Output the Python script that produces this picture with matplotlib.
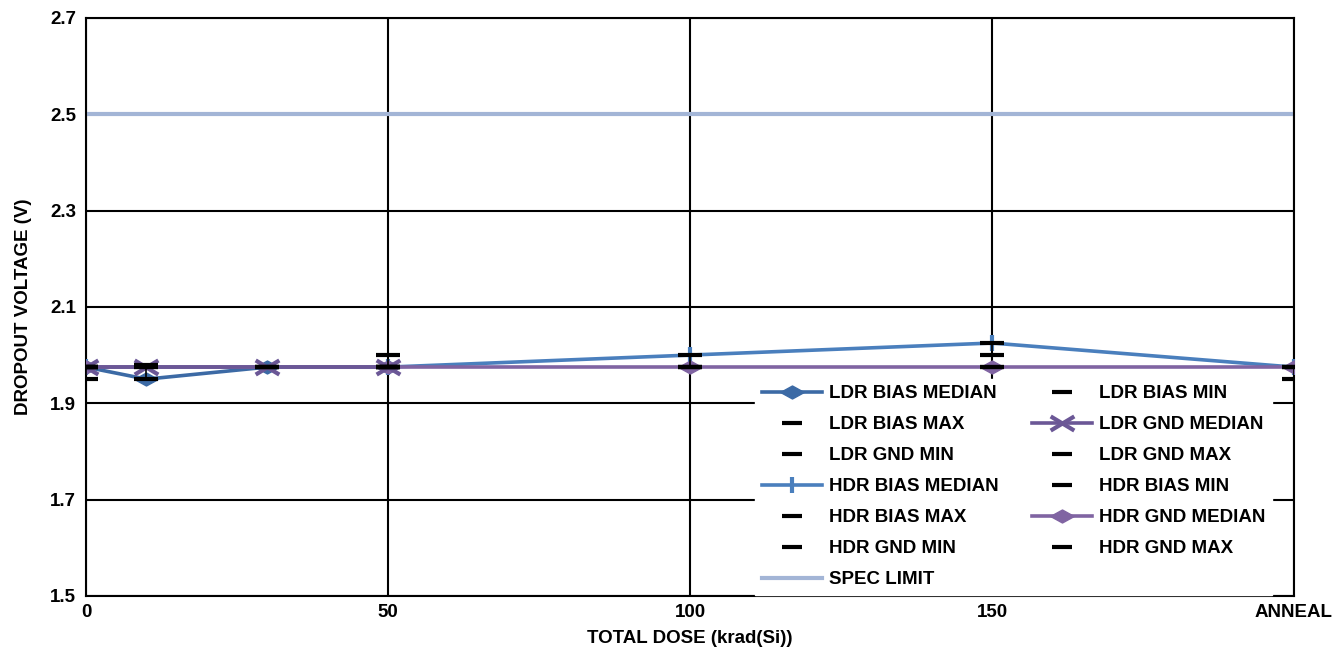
import matplotlib
matplotlib.use("Agg")
import matplotlib.pyplot as plt
from matplotlib.path import Path
import numpy as np

plt.rcParams['font.family'] = ['Liberation Sans', 'DejaVu Sans']
plt.rcParams['font.weight'] = 'bold'

x_ldr = [0, 10, 30, 50]
ldr_bias_median = [1.975, 1.95, 1.975, 1.975]
ldr_bias_min = [1.95, 1.95, 1.975, 1.975]
ldr_bias_max = [1.975, 1.98, 1.975, 1.975]
ldr_gnd_median = [1.975, 1.975, 1.975, 1.975]
ldr_gnd_min = [1.975, 1.975, 1.975, 1.975]
ldr_gnd_max = [1.975, 1.975, 1.975, 1.975]

x_hdr = [0, 50, 100, 150, 200]
hdr_bias_median = [1.975, 1.975, 2.0, 2.025, 1.975]
hdr_bias_min = [1.975, 1.975, 1.975, 2.0, 1.95]
hdr_bias_max = [1.975, 2.0, 2.0, 2.025, 1.975]
hdr_gnd_median = [1.975, 1.975, 1.975, 1.975, 1.975]
hdr_gnd_min = [1.975, 1.975, 1.975, 1.975, 1.975]
hdr_gnd_max = [1.975, 1.975, 1.975, 1.975, 1.975]

spec_x = [0, 200]
spec_limit = [2.5, 2.5]

x_ticks = [0, 50, 100, 150, 200]
x_tick_labels = ["0", "50", "100", "150", "ANNEAL"]
y_ticks = [1.5, 1.7, 1.9, 2.1, 2.3, 2.5, 2.7]

c_ldr_bias = '#3C6AA5'
c_hdr_bias = '#4A7FBD'
c_ldr_gnd = '#6B5796'
c_hdr_gnd = '#8064A2'
c_spec = '#A3B5D6'

FS = 13.5

diamond = Path([(-1, 0), (0, 0.55), (1, 0), (0, -0.55), (-1, 0)],
               [Path.MOVETO, Path.LINETO, Path.LINETO, Path.LINETO, Path.CLOSEPOLY])
xmark = Path([(-1, -0.6), (1, 0.6), (-1, 0.6), (1, -0.6)],
             [Path.MOVETO, Path.LINETO, Path.MOVETO, Path.LINETO])

fig = plt.figure(figsize=(13.44, 6.52), dpi=100)
ax = fig.add_axes([0.064, 0.086, 0.8988, 0.8866])

handles = []
dash_kw = dict(ls='none', marker='_', color='black', ms=17, mew=3, zorder=6)

h, = ax.plot(x_ldr, ldr_bias_median, color=c_ldr_bias, lw=2.6, marker=diamond, ms=17,
             mfc=c_ldr_bias, mec=c_ldr_bias, zorder=3, label='LDR BIAS MEDIAN'); handles.append(h)
ax.vlines(x_ldr, ldr_bias_min, ldr_bias_max, color='black', lw=1.2, zorder=6)
h, = ax.plot(x_ldr, ldr_bias_min, label='LDR BIAS MIN', **dash_kw); handles.append(h)
h, = ax.plot(x_ldr, ldr_bias_max, label='LDR BIAS MAX', **dash_kw); handles.append(h)
h, = ax.plot(x_ldr, ldr_gnd_median, color=c_ldr_gnd, lw=2.6, marker=xmark, ms=17, mew=3,
             mec=c_ldr_gnd, zorder=5, label='LDR GND MEDIAN'); handles.append(h)
h, = ax.plot(x_ldr, ldr_gnd_min, label='LDR GND MIN', **dash_kw); handles.append(h)
h, = ax.plot(x_ldr, ldr_gnd_max, label='LDR GND MAX', **dash_kw); handles.append(h)
h, = ax.plot(x_hdr, hdr_bias_median, color=c_hdr_bias, lw=2.6, marker='|', ms=12, mew=3,
             mec=c_hdr_bias, zorder=3, label='HDR BIAS MEDIAN'); handles.append(h)
ax.vlines(x_hdr, hdr_bias_min, hdr_bias_max, color='black', lw=1.2, zorder=6)
h, = ax.plot(x_hdr, hdr_bias_min, label='HDR BIAS MIN', **dash_kw); handles.append(h)
h, = ax.plot(x_hdr, hdr_bias_max, label='HDR BIAS MAX', **dash_kw); handles.append(h)
h, = ax.plot(x_hdr, hdr_gnd_median, color=c_hdr_gnd, lw=2.6, marker=diamond, ms=17,
             mfc=c_hdr_gnd, mec=c_hdr_gnd, zorder=4, label='HDR GND MEDIAN'); handles.append(h)
h, = ax.plot(x_hdr, hdr_gnd_min, label='HDR GND MIN', **dash_kw); handles.append(h)
h, = ax.plot(x_hdr, hdr_gnd_max, label='HDR GND MAX', **dash_kw); handles.append(h)
h, = ax.plot(spec_x, spec_limit, color=c_spec, lw=3, zorder=2, label='SPEC LIMIT'); handles.append(h)

ax.set_xlim(0, 200)
ax.set_ylim(1.5, 2.7)
ax.set_xticks(x_ticks)
ax.set_xticklabels(x_tick_labels)
ax.set_yticks(y_ticks)
ax.set_yticklabels([f"{v:.1f}" for v in y_ticks])
ax.tick_params(length=0, labelsize=FS)
ax.tick_params(axis='x', pad=5.5)
ax.tick_params(axis='y', pad=7)
for lab in ax.get_xticklabels() + ax.get_yticklabels():
    lab.set_fontweight('bold')
ax.grid(True, color='black', lw=1.5, zorder=0)
ax.set_axisbelow(True)
for s in ax.spines.values():
    s.set_linewidth(1.5)

ax.set_xlabel('TOTAL DOSE (krad(Si))', fontsize=FS, fontweight='bold', labelpad=7)
ax.set_ylabel('DROPOUT VOLTAGE (V)', fontsize=FS, fontweight='bold', labelpad=13)

order = [0, 2, 4, 6, 8, 10, 12, 1, 3, 5, 7, 9, 11]
leg_handles = [handles[i] for i in order]
leg = ax.legend(leg_handles, [hh.get_label() for hh in leg_handles], ncol=2,
                loc='lower right', bbox_to_anchor=(0.982, 0.002), borderaxespad=0,
                frameon=True, fancybox=False, framealpha=1, edgecolor='white',
                prop={'size': FS, 'weight': 'bold'}, handlelength=3.2,
                columnspacing=1.75, labelspacing=0.74, handletextpad=0.4,
                borderpad=0.35)
leg.set_zorder(10)
for lh in leg.get_lines():
    if lh.get_marker() == '_':
        lh.set_markersize(15)

fig.savefig('out.png', dpi=100)
